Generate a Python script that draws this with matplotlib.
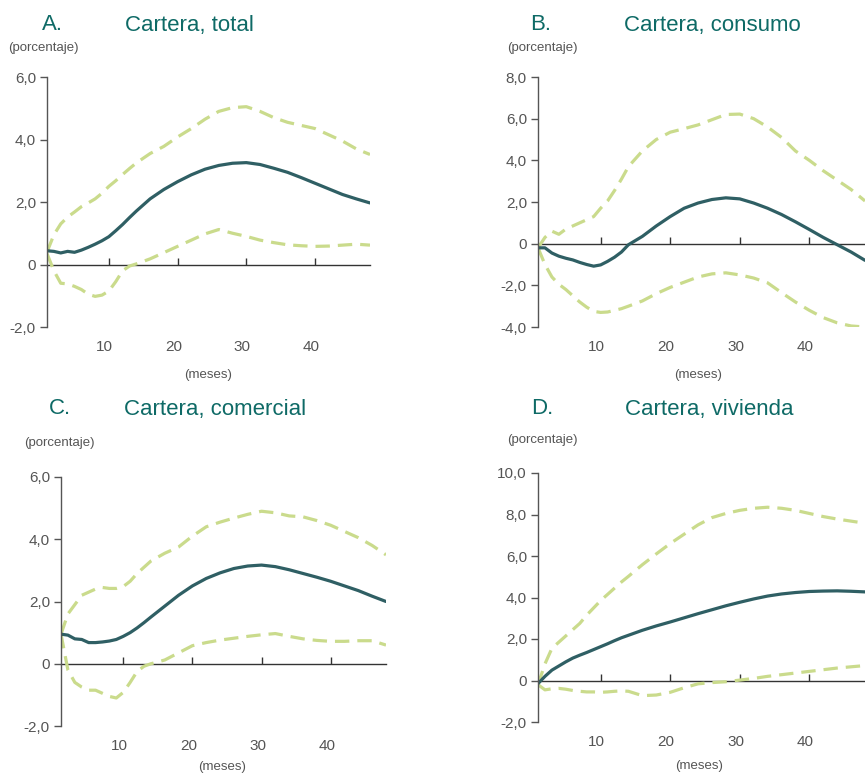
import matplotlib
matplotlib.use("Agg")
import matplotlib.pyplot as plt
from matplotlib.transforms import ScaledTranslation

plt.rcParams['font.family'] = ['Liberation Sans', 'DejaVu Sans']

# months on the x axis
months = [1, 2, 3, 4, 5, 6, 7, 8, 9, 10, 11, 12, 13, 14, 16, 18, 20, 22, 24,
          26, 28, 30, 32, 34, 36, 38, 40, 42, 44, 46, 48]

# A. Cartera, total
total_mid = [0.44, 0.42, 0.37, 0.42, 0.39, 0.46, 0.55, 0.65, 0.76, 0.89, 1.08, 1.28, 1.50, 1.71,
             2.10, 2.40, 2.65, 2.87, 3.05, 3.17, 3.24, 3.26, 3.20, 3.08, 2.95, 2.78, 2.60, 2.42,
             2.24, 2.10, 1.97]
total_up = [0.40, 0.95, 1.30, 1.52, 1.68, 1.85, 1.97, 2.10, 2.28, 2.50, 2.68, 2.88, 3.07, 3.25,
            3.55, 3.78, 4.08, 4.35, 4.65, 4.90, 5.02, 5.05, 4.90, 4.70, 4.55, 4.45, 4.35, 4.15,
            3.95, 3.70, 3.52]
total_lo = [0.35, -0.20, -0.60, -0.62, -0.70, -0.80, -0.95, -1.02, -0.98, -0.85, -0.55, -0.20,
            -0.05, 0.02, 0.18, 0.38, 0.58, 0.78, 0.98, 1.12, 1.00, 0.90, 0.78, 0.70, 0.63, 0.60,
            0.58, 0.59, 0.62, 0.65, 0.62]

# B. Cartera, consumo
consumo_mid = [-0.20, -0.20, -0.45, -0.60, -0.70, -0.78, -0.90, -1.00, -1.08, -1.02, -0.85, -0.65,
               -0.40, -0.05, 0.35, 0.85, 1.30, 1.70, 1.95, 2.12, 2.20, 2.15, 1.95, 1.70, 1.40,
               1.05, 0.68, 0.30, -0.05, -0.40, -0.80]
consumo_up = [-0.20, 0.30, 0.60, 0.45, 0.70, 0.85, 1.00, 1.15, 1.30, 1.70, 2.05, 2.55, 3.10, 3.70,
              4.45, 5.00, 5.35, 5.52, 5.70, 5.95, 6.20, 6.22, 6.00, 5.60, 5.10, 4.45, 4.00, 3.50,
              3.05, 2.60, 2.05]
consumo_lo = [-0.20, -1.00, -1.60, -1.95, -2.20, -2.50, -2.80, -3.05, -3.25, -3.30, -3.28, -3.20,
              -3.12, -3.00, -2.75, -2.40, -2.10, -1.85, -1.60, -1.45, -1.40, -1.50, -1.65, -1.88,
              -2.35, -2.80, -3.20, -3.55, -3.80, -3.95, -4.00]

# C. Cartera, comercial
comercial_mid = [0.95, 0.92, 0.80, 0.78, 0.68, 0.68, 0.70, 0.73, 0.78, 0.88, 1.00, 1.15, 1.32,
                 1.50, 1.85, 2.20, 2.50, 2.74, 2.92, 3.06, 3.14, 3.17, 3.12, 3.02, 2.90, 2.78,
                 2.65, 2.50, 2.35, 2.17, 2.00]
comercial_up = [0.95, 1.60, 1.90, 2.20, 2.30, 2.40, 2.45, 2.42, 2.42, 2.48, 2.65, 2.90, 3.10,
                3.30, 3.55, 3.75, 4.10, 4.40, 4.55, 4.68, 4.80, 4.90, 4.85, 4.75, 4.72, 4.60,
                4.45, 4.25, 4.05, 3.80, 3.50]
comercial_lo = [0.95, -0.20, -0.60, -0.75, -0.85, -0.85, -0.95, -1.05, -1.10, -0.92, -0.60,
                -0.25, -0.08, 0.00, 0.12, 0.35, 0.58, 0.68, 0.76, 0.82, 0.88, 0.93, 0.97, 0.88,
                0.80, 0.75, 0.72, 0.72, 0.74, 0.74, 0.60]

# D. Cartera, vivienda
vivienda_mid = [-0.15, 0.20, 0.50, 0.70, 0.90, 1.08, 1.22, 1.35, 1.49, 1.63, 1.77, 1.92, 2.06,
                2.18, 2.42, 2.63, 2.82, 3.02, 3.22, 3.41, 3.60, 3.77, 3.93, 4.07, 4.17, 4.24,
                4.29, 4.31, 4.32, 4.30, 4.27]
vivienda_up = [-0.20, 0.80, 1.55, 1.85, 2.15, 2.45, 2.75, 3.15, 3.50, 3.85, 4.15, 4.45, 4.75,
               5.02, 5.58, 6.10, 6.60, 7.05, 7.50, 7.85, 8.05, 8.20, 8.30, 8.35, 8.30, 8.20,
               8.05, 7.90, 7.78, 7.68, 7.58]
vivienda_lo = [-0.20, -0.45, -0.40, -0.38, -0.42, -0.48, -0.52, -0.55, -0.55, -0.57, -0.55,
               -0.52, -0.50, -0.52, -0.73, -0.70, -0.57, -0.35, -0.16, -0.10, -0.06, 0.02, 0.10,
               0.20, 0.28, 0.36, 0.44, 0.52, 0.60, 0.66, 0.72]

xticks = [10, 20, 30, 40]

SOLID = '#2f5f64'
DASH = '#cadb8c'
TEAL = '#0e6a66'
GREY = '#555555'


def fmt(v):
    if v == 0:
        return '0'
    return ('%.1f' % v).replace('.', ',')


def panel(fig, rect, mid, up, lo, ylim, ystep, letter, title, title_y, pct_xy, meses_xy):
    ax = fig.add_axes(rect)
    ax.plot(months, up, color=DASH, lw=2.3, dashes=(4.5, 2.5))
    ax.plot(months, lo, color=DASH, lw=2.3, dashes=(4.5, 2.5))
    ax.plot(months, mid, color=SOLID, lw=2.3, solid_capstyle='round')
    ax.set_xlim(1, 48)
    ax.set_ylim(*ylim)
    yt = [ylim[0] + i * ystep for i in range(int(round((ylim[1] - ylim[0]) / ystep)) + 1)]
    ax.set_yticks(yt)
    ax.set_yticklabels([fmt(v) for v in yt])
    for s in ['top', 'right']:
        ax.spines[s].set_visible(False)
    ax.spines['left'].set_color(GREY)
    ax.spines['left'].set_linewidth(1.0)
    ax.spines['bottom'].set_visible(False)
    ax.tick_params(axis='y', direction='out', length=5, width=1, color=GREY,
                   labelcolor=GREY, labelsize=11, pad=3)
    ax.set_xticks(xticks)
    ax.tick_params(axis='x', length=0, labelcolor=GREY, labelsize=11, pad=9)
    shift = ScaledTranslation(-4 / 100, 0, fig.dpi_scale_trans)
    for lab in ax.get_xticklabels():
        lab.set_transform(lab.get_transform() + shift)
    # zero line with upward tick marks
    zx = ax.secondary_xaxis(0, transform=ax.transData)
    zx.set_xticks(xticks)
    zx.tick_params(axis='x', direction='in', length=5, width=1, color='#333333',
                   labelbottom=False)
    zx.spines['bottom'].set_color('#333333')
    zx.spines['bottom'].set_linewidth(1.0)
    fig.text(letter[1], title_y, letter[0], color=TEAL, fontsize=16, ha='center', va='center')
    fig.text(title[1], title_y, title[0], color=TEAL, fontsize=16, ha='left', va='center')
    fig.text(pct_xy[0], pct_xy[1], '(porcentaje)', color=GREY, fontsize=9.5, ha='left', va='center')
    fig.text(meses_xy[0], meses_xy[1], '(meses)', color=GREY, fontsize=9.5, ha='center', va='center')
    return ax


W, H = 865, 777
fig = plt.figure(figsize=(W / 100, H / 100), dpi=100)


def r(l, t, rr, b):
    return [l / W, 1 - b / H, (rr - l) / W, (b - t) / H]


panel(fig, r(47, 77, 370, 327), total_mid, total_up, total_lo, (-2, 6), 2,
      ('A.', 52 / W), ('Cartera, total', 125 / W), 1 - 25 / H,
      (8 / W, 1 - 48 / H), (208 / W, 1 - 375 / H))
panel(fig, r(538, 77, 865, 327), consumo_mid, consumo_up, consumo_lo, (-4, 8), 2,
      ('B.', 541 / W), ('Cartera, consumo', 624 / W), 1 - 25 / H,
      (507 / W, 1 - 48 / H), (698 / W, 1 - 375 / H))
panel(fig, r(61, 477, 386, 726), comercial_mid, comercial_up, comercial_lo, (-2, 6), 2,
      ('C.', 60 / W), ('Cartera, comercial', 124 / W), 1 - 409 / H,
      (24 / W, 1 - 443 / H), (222 / W, 1 - 767 / H))
panel(fig, r(538, 473, 865, 722), vivienda_mid, vivienda_up, vivienda_lo, (-2, 10), 2,
      ('D.', 542 / W), ('Cartera, vivienda', 625 / W), 1 - 409 / H,
      (507 / W, 1 - 440 / H), (699 / W, 1 - 766 / H))

fig.savefig('out.png', dpi=100)
